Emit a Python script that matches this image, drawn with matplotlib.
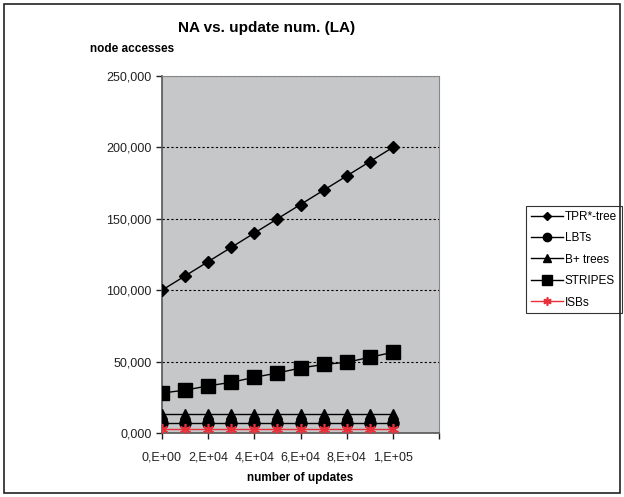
import matplotlib
matplotlib.use("Agg")
import matplotlib.pyplot as plt
from matplotlib.patches import Rectangle

plt.rcParams['font.family'] = ['Liberation Sans', 'DejaVu Sans']

updates = [0, 10000, 20000, 30000, 40000, 50000, 60000, 70000, 80000, 90000, 100000]
tpr = [100000, 110000, 120000, 130000, 140000, 150000, 160000, 170000, 180000, 190000, 200000]
lbt = [7000] * 11
bplus = [13000] * 11
stripes = [28000, 30000, 33000, 35500, 39000, 42000, 45500, 48000, 49500, 53000, 56500]
isb = [3000] * 11

y_ticks = [0, 50000, 100000, 150000, 200000, 250000]
y_tick_labels = ["0,000", "50,000", "100,000", "150,000", "200,000", "250,000"]
x_ticks = [0, 20000, 40000, 60000, 80000, 100000, 120000]
x_tick_labels = ["0,E+00", "2,E+04", "4,E+04", "6,E+04", "8,E+04", "1,E+05", ""]

W, H = 624, 497
fig = plt.figure(figsize=(W / 100, H / 100), dpi=100)
fig.patch.set_facecolor('white')

ax = fig.add_axes([162 / W, 1 - 433 / H, (439 - 162) / W, (433 - 76) / H])
ax.set_facecolor('#c6c7c9')
ax.set_xlim(0, 120000)
ax.set_ylim(0, 250000)

for v in y_ticks[1:]:
    ax.axhline(v, color='black', linestyle=(0, (2, 2)), linewidth=0.8, zorder=1)

ax.plot(updates, tpr, color='black', marker='D', markersize=6, linewidth=1, label='TPR*-tree', zorder=3)
ax.plot(updates, lbt, color='black', marker='o', markersize=8, linewidth=1, label='LBTs', zorder=3)
ax.plot(updates, bplus, color='black', marker='^', markersize=7, linewidth=1, label='B+ trees', zorder=3)
ax.plot(updates, stripes, color='black', marker='s', markersize=10, linewidth=1, label='STRIPES', zorder=3)
ax.plot(updates, isb, color='#e8303a', marker=(6, 2, 0), markersize=8, markeredgewidth=1.2,
        linewidth=1, label='ISBs', zorder=4)

ax.set_yticks(y_ticks)
ax.set_yticklabels(y_tick_labels)
ax.set_xticks(x_ticks)
ax.set_xticklabels(x_tick_labels)
ax.tick_params(axis='both', direction='out', length=4, width=1, labelsize=9, colors='#222222')
ax.tick_params(axis='x', pad=9)
for s in ['top', 'right']:
    ax.spines[s].set_color('#888888')
for s in ['left', 'bottom']:
    ax.spines[s].set_color('#555555')
    ax.spines[s].set_linewidth(1.2)

fig.text(267 / W, 1 - 28 / H, "NA vs. update num. (LA)", ha='center', va='center',
         fontsize=11, fontweight='bold')
fig.text(90 / W, 1 - 49 / H, "node accesses", ha='left', va='center',
         fontsize=8.5, fontweight='bold')
fig.text(300 / W, 1 - 478 / H, "number of updates", ha='center', va='center',
         fontsize=8.5, fontweight='bold')

leg = fig.legend(loc='upper left', bbox_to_anchor=(526 / W, 1 - 206 / H),
                 frameon=True, fancybox=False, fontsize=8.5, handlelength=2.7,
                 markerscale=0.75, borderpad=0.4, labelspacing=0.8,
                 handletextpad=0.2, borderaxespad=0)
leg.get_frame().set_edgecolor('black')
leg.get_frame().set_linewidth(0.8)

fig.patches.append(Rectangle((4 / W, 4 / H), (620 - 4) / W, (493 - 4) / H,
                             transform=fig.transFigure, fill=False,
                             edgecolor='#222222', linewidth=1.2, zorder=10))

fig.savefig('out.png', dpi=100)
